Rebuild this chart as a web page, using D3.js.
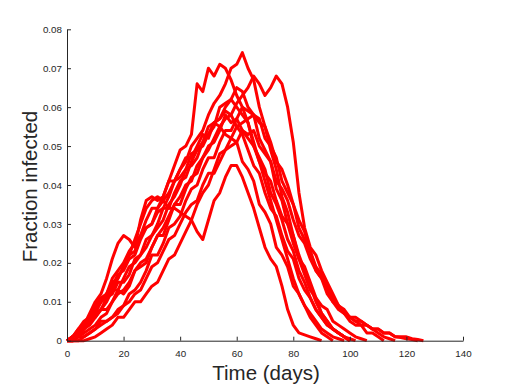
<!DOCTYPE html>
<html lang="en">
  <head>
    <meta charset="UTF-8" />
    <title>Fraction infected</title>
    <style>
        body { margin: 0; background: #fff; }
        .axis path, .axis line { stroke: #262626; stroke-width: 1; }
        .axis text { font-family: "Liberation Sans", Arial, sans-serif; font-size: 9.8px; fill: #262626; }
        .label { font-family: "Liberation Sans", Arial, sans-serif; font-size: 20.5px; fill: #262626; }
        .run { fill: none; stroke: #ff0000; stroke-width: 3; stroke-linejoin: round; }
    </style>
    <script src="https://d3js.org/d3.v7.min.js"></script>
  </head>
  <body>
    <div id="chart"></div>
    <script>
        // each run sampled every 2 days, starting at day 0
        const step = 2;
        const runA = [0,.001,.002,.004,.006,.008,.010,.012,.015,.016,.019,.022,.023,.027,.029,.030,.034,.036,.038,.041,.044,.046,.050,.052,.054,.058,.061,.063,.066,.070,.071,.074,.070,.067,.060,.055,.049,.044,.037,.033,.027,.022,.018,.014,.010,.007,.005,.003,.002,.001,0];
        const runB = [0,0,.001,.002,.003,.004,.006,.007,.010,.012,.013,.015,.018,.020,.021,.024,.027,.029,.032,.035,.037,.040,.041,.045,.047,.049,.052,.055,.057,.058,.061,.063,.065,.068,.066,.063,.065,.068,.066,.060,.051,.038,.029,.024,.022,.018,.015,.012,.009,.007,.006,.006,.005,.004,.003,.003,.002,.002,.001,.001,.001,.0005,.0003,0];
        const runC = [0,.001,.002,.004,.007,.010,.012,.016,.021,.025,.027,.026,.024,.031,.036,.037,.036,.037,.041,.045,.049,.050,.053,.066,.064,.070,.068,.071,.070,.067,.063,.060,.056,.051,.046,.041,.036,.031,.026,.021,.016,.012,.009,.006,.004,.002,.001,0];
        const runD = [0,.001,.002,.003,.005,.006,.008,.010,.013,.016,.019,.022,.026,.030,.034,.036,.037,.036,.034,.034,.033,.032,.031,.028,.026,.031,.036,.038,.042,.045,.045,.042,.038,.034,.029,.024,.021,.019,.014,.008,.004,.002,.0015,.001,.0005,0];
        const runE = [0,.001,.002,.003,.005,.007,.008,.011,.013,.013,.016,.019,.020,.022,.026,.027,.030,.034,.034,.038,.041,.042,.046,.049,.050,.053,.056,.057,.060,.062,.060,.058,.056,.050,.047,.044,.038,.035,.031,.026,.023,.018,.015,.011,.008,.006,.004,.003,.002,.001,0];
        const runF = [0,0,.001,.003,.004,.006,.008,.008,.010,.013,.012,.014,.018,.019,.020,.024,.027,.027,.031,.035,.035,.039,.042,.043,.047,.050,.051,.054,.058,.056,.057,.054,.052,.050,.046,.043,.041,.036,.032,.030,.025,.021,.019,.015,.011,.009,.008,.005,.004,.003,.002,.001,.0005,0];
        const runG = [0,0,.001,.001,.002,.003,.005,.005,.006,.008,.009,.012,.013,.015,.018,.022,.022,.025,.029,.030,.032,.036,.039,.040,.044,.047,.047,.051,.054,.054,.057,.060,.059,.058,.057,.052,.050,.047,.041,.038,.035,.029,.026,.023,.018,.016,.014,.010,.008,.007,.005,.004,.004,.002,.002,.001,0];
        const runH = [0,.001,.003,.005,.006,.009,.011,.012,.016,.018,.020,.023,.025,.027,.031,.034,.034,.037,.041,.041,.044,.047,.047,.050,.053,.052,.056,.055,.053,.052,.051,.046,.044,.041,.035,.033,.030,.024,.022,.019,.014,.012,.009,.007,.005,.003,.002,.001,.0005,0];
        const runI = [0,.001,.002,.004,.005,.007,.010,.011,.012,.015,.015,.017,.021,.022,.024,.027,.029,.031,.035,.037,.040,.044,.045,.047,.051,.053,.055,.060,.061,.062,.065,.064,.060,.058,.052,.049,.046,.039,.036,.030,.027,.021,.017,.013,.011,.007,.005,.003,.002,.001,0];
        const runJ = [0,0,0,.001,.002,.003,.004,.005,.006,.007,.009,.010,.012,.013,.016,.019,.020,.023,.026,.027,.030,.033,.035,.036,.040,.043,.043,.046,.049,.050,.051,.054,.053,.054,.050,.048,.046,.041,.039,.036,.031,.027,.025,.021,.018,.016,.012,.010,.009,.007,.006,.005,.004,.004,.003,.002,.001,.0005,0];
        const runK = [0,.001,.003,.004,.006,.008,.010,.012,.014,.017,.018,.021,.022,.026,.029,.030,.033,.034,.037,.041,.042,.044,.048,.049,.051,.055,.056,.057,.059,.058,.055,.053,.049,.045,.043,.038,.034,.032,.027,.023,.021,.016,.013,.011,.008,.006,.004,.003,.002,.001,.0005,0];
        const runL = [0,0,0,0,.0005,.001,.002,.003,.004,.006,.006,.008,.010,.010,.012,.014,.015,.018,.021,.022,.025,.028,.031,.035,.038,.040,.044,.048,.049,.052,.055,.056,.057,.058,.056,.055,.051,.046,.044,.040,.035,.031,.028,.023,.019,.017,.013,.011,.009,.008,.006,.005,.005,.004,.003,.003,.002,.002,.001,.0008,.0005,.0003,0];
        const runs = [runA, runB, runC, runD, runE, runF, runG, runH, runI, runJ, runK, runL];

        const xTicks = [0, 20, 40, 60, 80, 100, 120, 140];
        const yTicks = [0, 0.01, 0.02, 0.03, 0.04, 0.05, 0.06, 0.07, 0.08];

        const width = 512, height = 384;
        const plotLeft = 67, plotRight = 463, plotTop = 29.3, plotBottom = 340.7;

        const svg = d3.select("#chart").append("svg")
            .attr("width", width)
            .attr("height", height);

        const x = d3.scaleLinear().domain([0, 140]).range([plotLeft, plotRight]);
        const y = d3.scaleLinear().domain([0, 0.08]).range([plotBottom, plotTop]);

        const line = d3.line()
            .x((d, i) => x(i * step))
            .y(d => y(d));

        svg.append("g").selectAll("path")
            .data(runs)
            .join("path")
            .attr("class", "run")
            .attr("d", line);

        const gX = svg.append("g")
            .attr("class", "axis")
            .attr("transform", `translate(0,${plotBottom})`)
            .call(d3.axisBottom(x).tickValues(xTicks).tickSize(-4).tickPadding(8).tickSizeOuter(0));
        gX.selectAll("text").attr("dy", "0.85em");

        const gY = svg.append("g")
            .attr("class", "axis")
            .attr("transform", `translate(${plotLeft},0)`)
            .call(d3.axisLeft(y).tickValues(yTicks).tickSize(-4).tickPadding(5).tickSizeOuter(0)
                .tickFormat(d => d === 0 ? "0" : d3.format(".2f")(d)));

        svg.append("text")
            .attr("class", "label")
            .attr("x", 266)
            .attr("y", 380)
            .attr("text-anchor", "middle")
            .text("Time (days)");

        svg.append("text")
            .attr("class", "label")
            .attr("transform", `translate(37,186.5) rotate(-90)`)
            .attr("text-anchor", "middle")
            .text("Fraction infected");
    </script>
  </body>
</html>
